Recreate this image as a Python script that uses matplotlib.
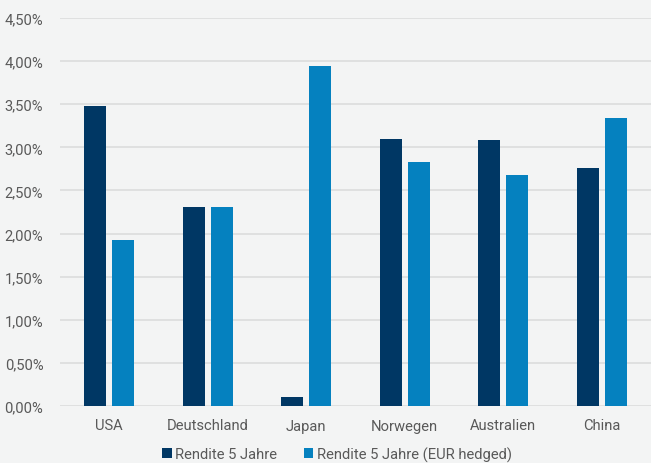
import matplotlib
matplotlib.use("Agg")
import matplotlib.pyplot as plt
import numpy as np
from matplotlib.ticker import FuncFormatter

categories = ["USA", "Deutschland", "Japan", "Norwegen", "Australien", "China"]
rendite = [3.48, 2.31, 0.10, 3.10, 3.08, 2.76]
rendite_hedged = [1.93, 2.31, 3.94, 2.83, 2.68, 3.34]
series_names = ["Rendite 5 Jahre", "Rendite 5 Jahre (EUR hedged)"]
yticks = [0, 0.5, 1.0, 1.5, 2.0, 2.5, 3.0, 3.5, 4.0, 4.5]

plt.rcParams['font.family'] = ['Roboto', 'DejaVu Sans']
bg = "#f3f4f4"
txt = "#595959"
dark = "#003764"
light = "#0581bf"

fig = plt.figure(figsize=(6.51, 4.64), dpi=100, facecolor=bg)
ax = fig.add_axes([60/651, 1 - 407/464, 1 - 60/651, (407 - 19)/464])
ax.set_facecolor(bg)

x = np.arange(len(categories))
w = 0.225
off = 0.142
ax.bar(x - off, rendite, w, color=dark, label=series_names[0], zorder=3)
ax.bar(x + off, rendite_hedged, w, color=light, label=series_names[1], zorder=3)

ax.set_xlim(-0.5, len(categories) - 0.5)
ax.set_ylim(0, 4.5)
ax.set_yticks(yticks)
ax.yaxis.set_major_formatter(FuncFormatter(lambda v, p: f"{v:.2f}".replace(".", ",") + "%"))
ax.set_xticks(x)
ax.set_xticklabels(categories)
ax.grid(axis='y', color="#dcdddd", linewidth=1.2, zorder=0)
ax.set_axisbelow(True)
for s in ax.spines.values():
    s.set_visible(False)
ax.tick_params(axis='both', length=0, colors=txt, labelsize=10.6)
ax.tick_params(axis='y', pad=12)
ax.tick_params(axis='x', pad=9)

leg = fig.legend(loc='center', bbox_to_anchor=(337/651, 1 - 455/464), ncol=2, frameon=False,
                 fontsize=10.6, handlelength=0.65, handleheight=0.65, handletextpad=0.25,
                 columnspacing=1.8, labelcolor=txt)

fig.savefig("out.png", dpi=100, facecolor=bg)
